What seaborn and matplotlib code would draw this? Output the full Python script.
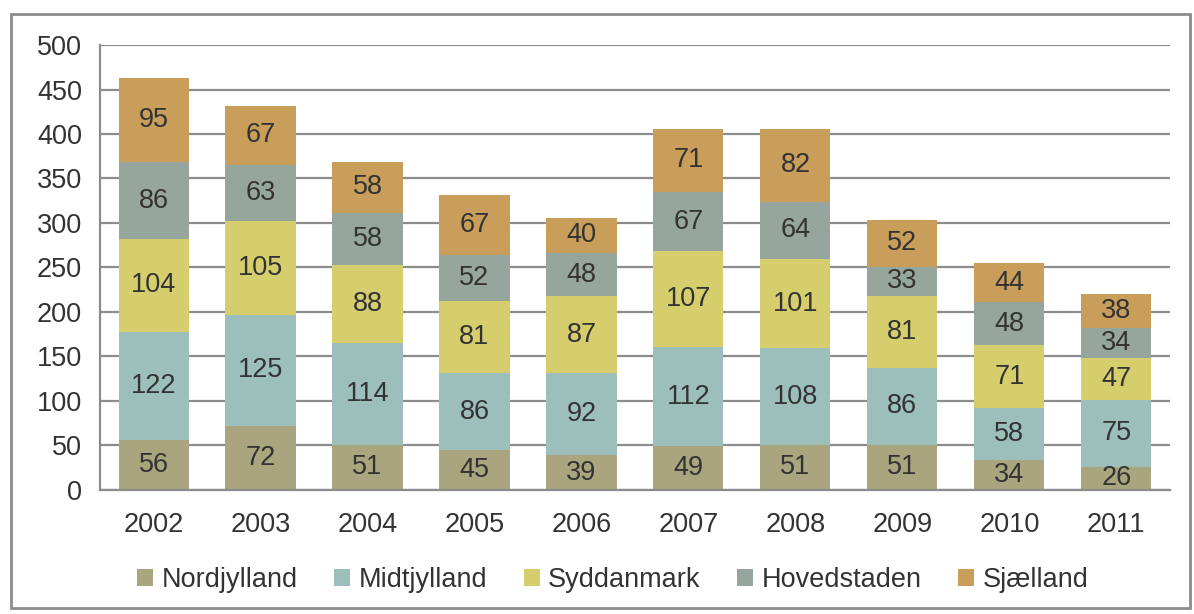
import numpy as np
import pandas as pd
import matplotlib.pyplot as plt
import seaborn as sns
from matplotlib.patches import Rectangle, Patch

# data
years = ["2002", "2003", "2004", "2005", "2006", "2007", "2008", "2009", "2010", "2011"]
regions = ["Nordjylland", "Midtjylland", "Syddanmark", "Hovedstaden", "Sjælland"]
nordjylland = [56, 72, 51, 45, 39, 49, 51, 51, 34, 26]
midtjylland = [122, 125, 114, 86, 92, 112, 108, 86, 58, 75]
syddanmark = [104, 105, 88, 81, 87, 107, 101, 81, 71, 47]
hovedstaden = [86, 63, 58, 52, 48, 67, 64, 33, 48, 34]
sjaelland = [95, 67, 58, 67, 40, 71, 82, 52, 44, 38]
colors = ["#a9a57e", "#9dbfbc", "#d6ce6c", "#97a69d", "#c99e5b"]

df = pd.DataFrame({"year": years, "Nordjylland": nordjylland, "Midtjylland": midtjylland,
                   "Syddanmark": syddanmark, "Hovedstaden": hovedstaden, "Sjælland": sjaelland})

# cumulative tops for the stacked look
cum = df[regions].cumsum(axis=1)
cum["year"] = df["year"]

sns.set_theme(style="white")
plt.rcParams["font.family"] = ["Liberation Sans", "DejaVu Sans"]
text_color = "#333333"
grid_color = "#8c8c8c"
fs = 19.5

fig = plt.figure(figsize=(11.94, 6.14), dpi=100)
ax = fig.add_axes([0.0838, 0.202, 0.896, 0.7247])

# draw tallest first, each lower layer on top of it
for name, c in reversed(list(zip(regions, colors))):
    sns.barplot(data=cum, x="year", y=name, color=c, saturation=1, width=0.655,
                linewidth=0, edgecolor=c, ax=ax, zorder=2)

# value labels in the middle of each segment
bottoms = np.zeros(len(years))
for name in regions:
    vals = df[name].to_numpy()
    for i, v in enumerate(vals):
        ax.text(i, bottoms[i] + v / 2, str(v), ha="center", va="center",
                fontsize=fs, color=text_color, zorder=3)
    bottoms += vals

ax.set_ylim(0, 500)
ax.set_xlim(-0.5, len(years) - 0.5)
ax.set_yticks(range(0, 501, 50))
ax.set_xlabel("")
ax.set_ylabel("")
ax.yaxis.grid(True, color=grid_color, linewidth=1.6)
ax.set_axisbelow(True)

for s in ["top", "right"]:
    ax.spines[s].set_visible(False)
for s in ["left", "bottom"]:
    ax.spines[s].set_color(grid_color)
    ax.spines[s].set_linewidth(1.6)

ax.tick_params(axis="y", which="major", length=7, width=1.6, color=grid_color,
               labelsize=fs, labelcolor=text_color, pad=6)
ax.tick_params(axis="x", which="major", length=0, labelsize=fs,
               labelcolor=text_color, pad=16)
ax.set_xticks(np.arange(-0.5, len(years), 1.0), minor=True)
ax.tick_params(axis="x", which="minor", length=8, width=1.6, color=grid_color)

handles = [Patch(facecolor=c, edgecolor="none") for c in colors]
fig.legend(handles, regions, loc="center", bbox_to_anchor=(0.513, 0.055), ncol=5,
           frameon=False, fontsize=fs, labelcolor=text_color, handlelength=0.6,
           handleheight=0.6, handletextpad=0.3, columnspacing=1.35)

# outer frame around the chart
fig.patches.append(Rectangle((0.009, 0.01), 0.988, 0.968, transform=fig.transFigure,
                             fill=False, edgecolor="#8c8c8c", linewidth=2))

fig.savefig("out.png", dpi=100)
